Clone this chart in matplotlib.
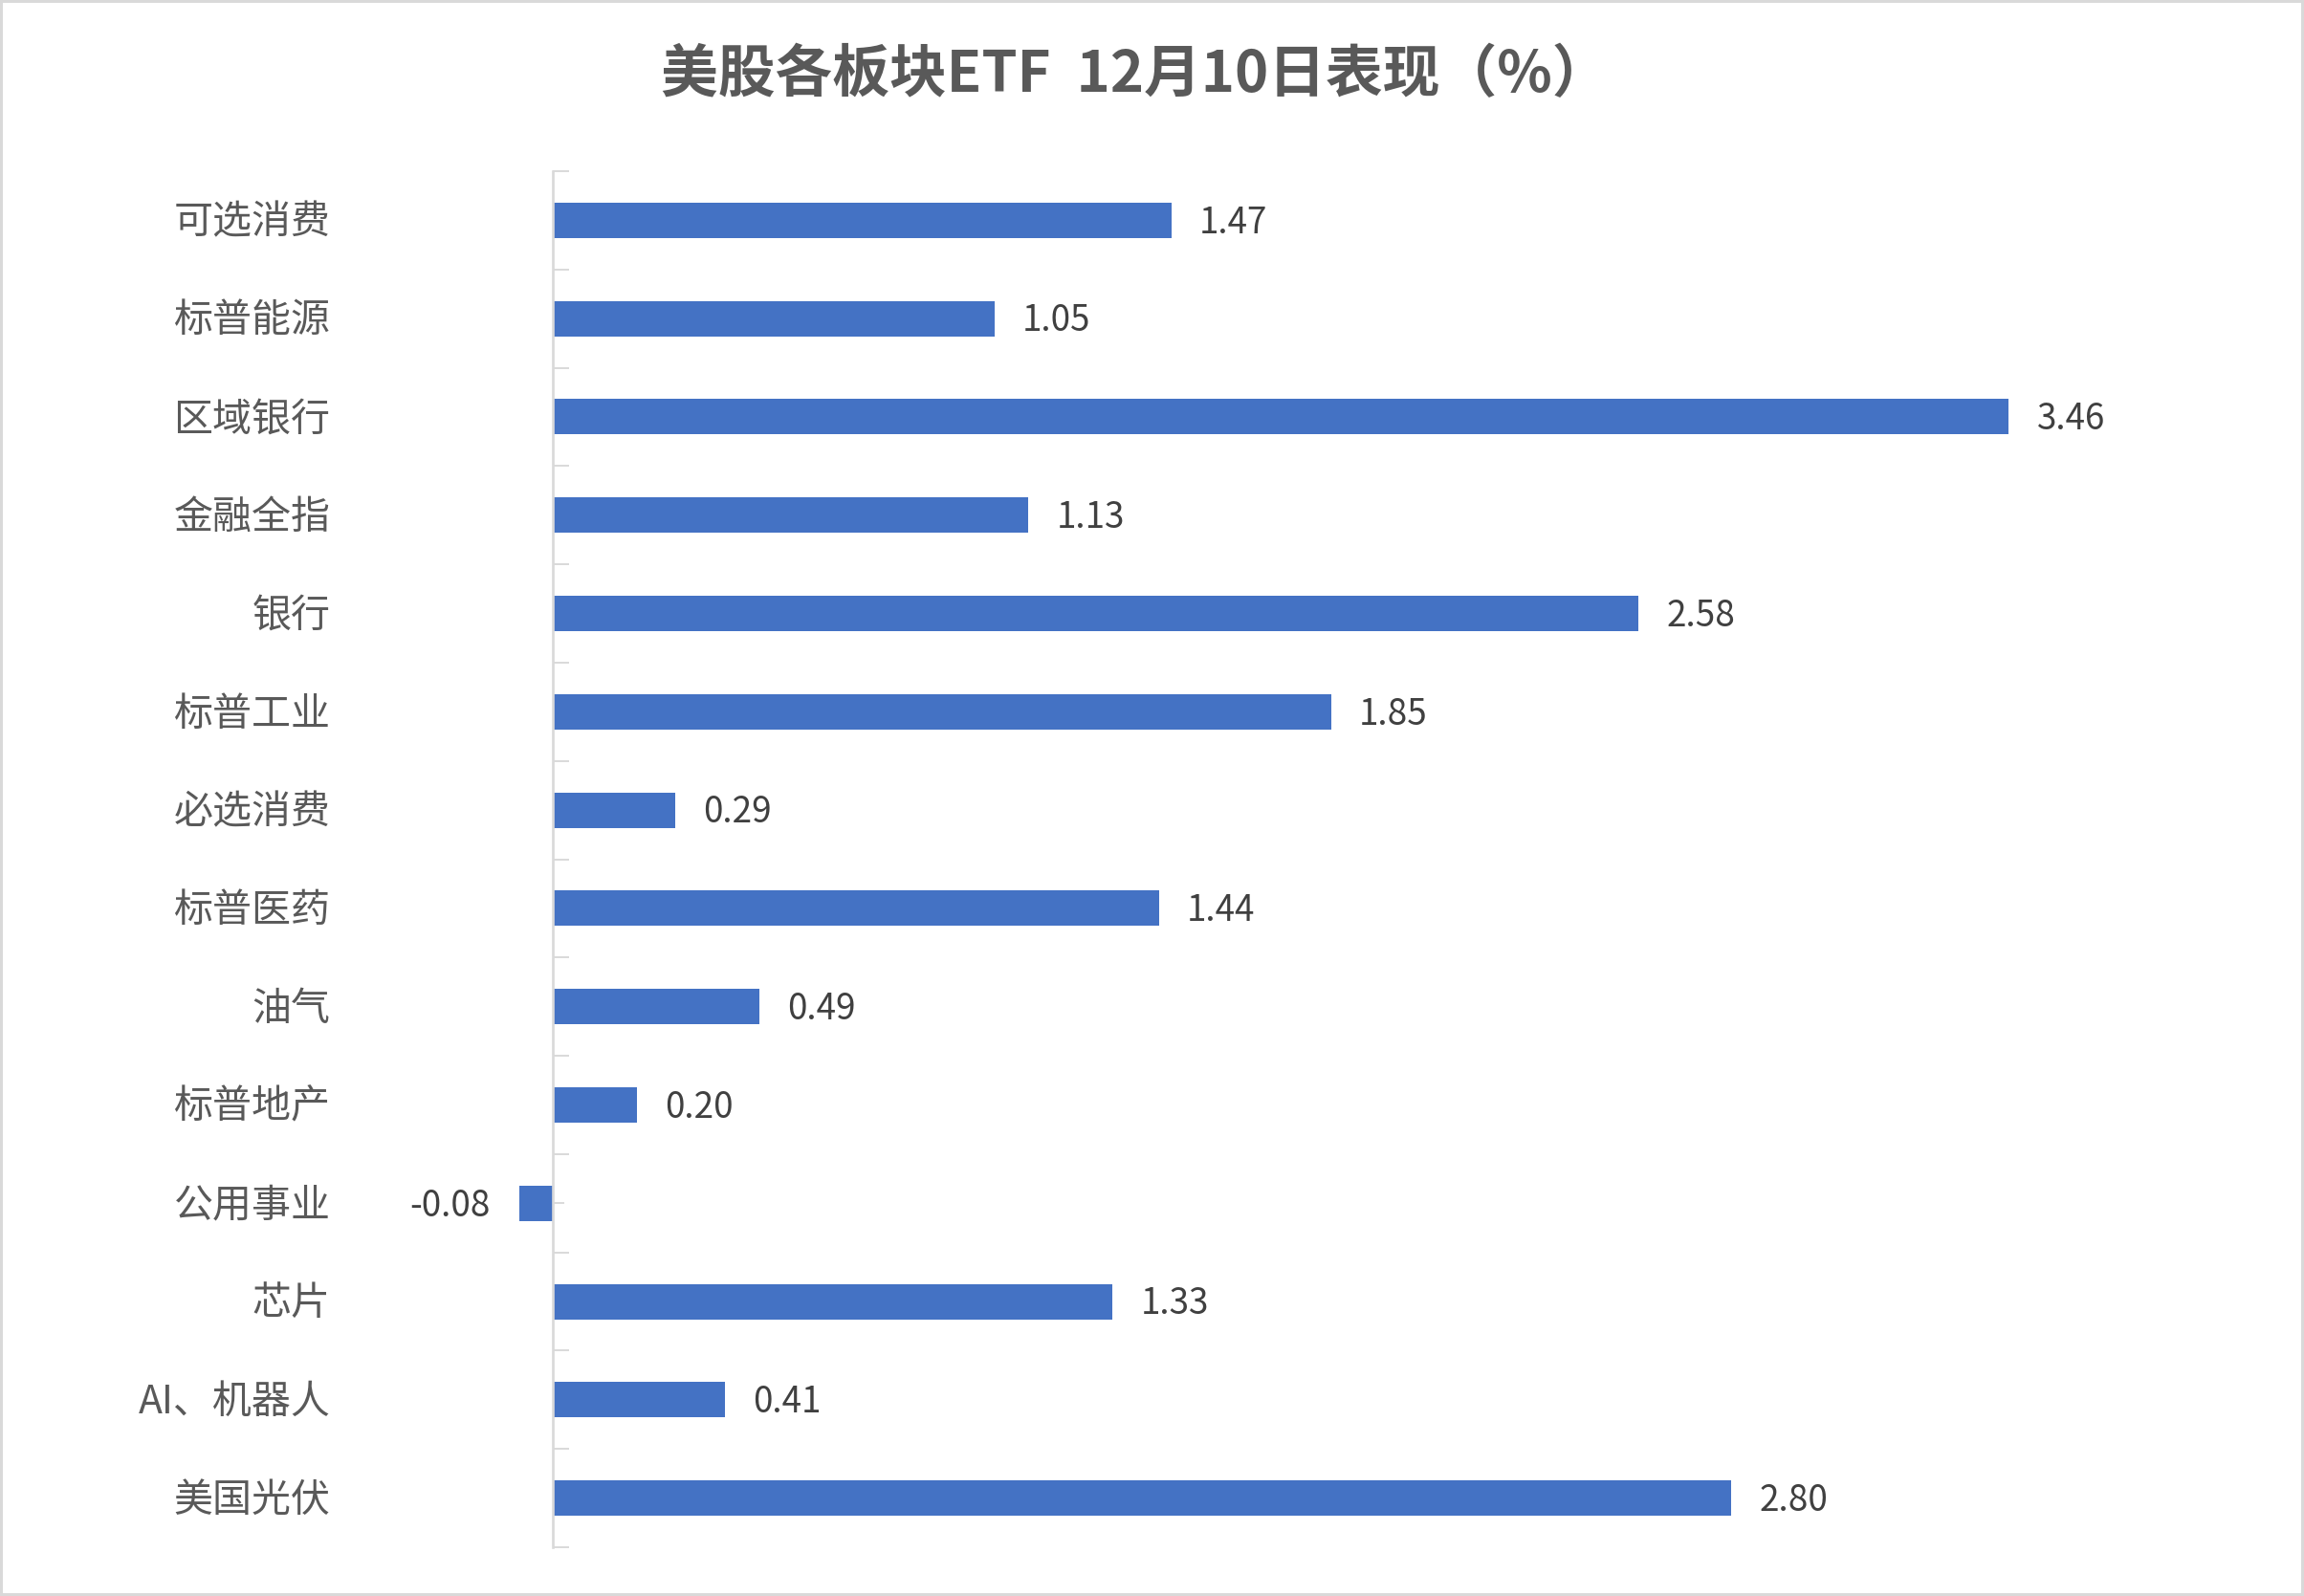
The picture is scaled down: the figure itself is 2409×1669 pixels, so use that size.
import matplotlib as mpl
mpl.use('Agg')
import matplotlib.pyplot as plt
from matplotlib.ticker import FixedLocator

plt.rcParams['font.family'] = ['Noto Sans CJK SC', 'DejaVu Sans']

# data, top to bottom as in the chart
categories = ['可选消费', '标普能源', '区域银行', '金融全指', '银行', '标普工业', '必选消费',
              '标普医药', '油气', '标普地产', '公用事业', '芯片', 'AI、机器人', '美国光伏']
values = [1.47, 1.05, 3.46, 1.13, 2.58, 1.85, 0.29, 1.44, 0.49, 0.20, -0.08, 1.33, 0.41, 2.80]
title = '美股各板块ETF  12月10日表现（%）'

W, H = 2409, 1669
fig = plt.figure(figsize=(W / 100, H / 100), dpi=100)
fig.patch.set_facecolor('white')
fig.patch.set_edgecolor('#d9d9d9')
fig.patch.set_linewidth(4)

xmin, xmax = -0.5, 4.0
ax = fig.add_axes([358 / W, 1 - 1618 / H, (2338 - 358) / W, (1618 - 179) / H])
n = len(categories)
pos = list(range(n))
ax.barh(pos, values, height=0.36, color='#4472c4', zorder=2)
ax.set_xlim(xmin, xmax)
ax.set_ylim(n - 0.5, -0.5)

for s in ['top', 'right', 'bottom']:
    ax.spines[s].set_visible(False)
ax.spines['left'].set_position(('data', 0))
ax.spines['left'].set_color('#d9d9d9')
ax.spines['left'].set_linewidth(1.9)
ax.spines['left'].set_zorder(3)
ax.set_xticks([])
ax.yaxis.set_major_locator(FixedLocator([i - 0.5 for i in range(n + 1)]))
ax.yaxis.set_minor_locator(FixedLocator(pos))
ax.tick_params(axis='y', which='major', direction='in', length=12, width=1.4,
               color='#d9d9d9', labelleft=False)
ax.tick_params(axis='y', which='minor', direction='in', length=8.5, width=1.4,
               color='#d9d9d9', labelleft=False)

for i, (c, v) in enumerate(zip(categories, values)):
    ax.annotate(c, (xmin, i), xytext=(-9, -2), textcoords='offset points',
                ha='right', va='center', fontsize=29.5, fontweight='medium',
                color='#595959')
    if v >= 0:
        ax.annotate(f'{v:.2f}', (v, i), xytext=(21, -2), textcoords='offset points',
                    ha='left', va='center', fontsize=26.5, color='#404040')
    else:
        ax.annotate(f'{v:.2f}', (v, i), xytext=(-22, -2), textcoords='offset points',
                    ha='right', va='center', fontsize=26.5, color='#404040')

fig.text(1187 / W, 1 - 79 / H, title, ha='center', va='center',
         fontsize=43, fontweight='bold', color='#595959')

fig.savefig('out.png', dpi=100)
